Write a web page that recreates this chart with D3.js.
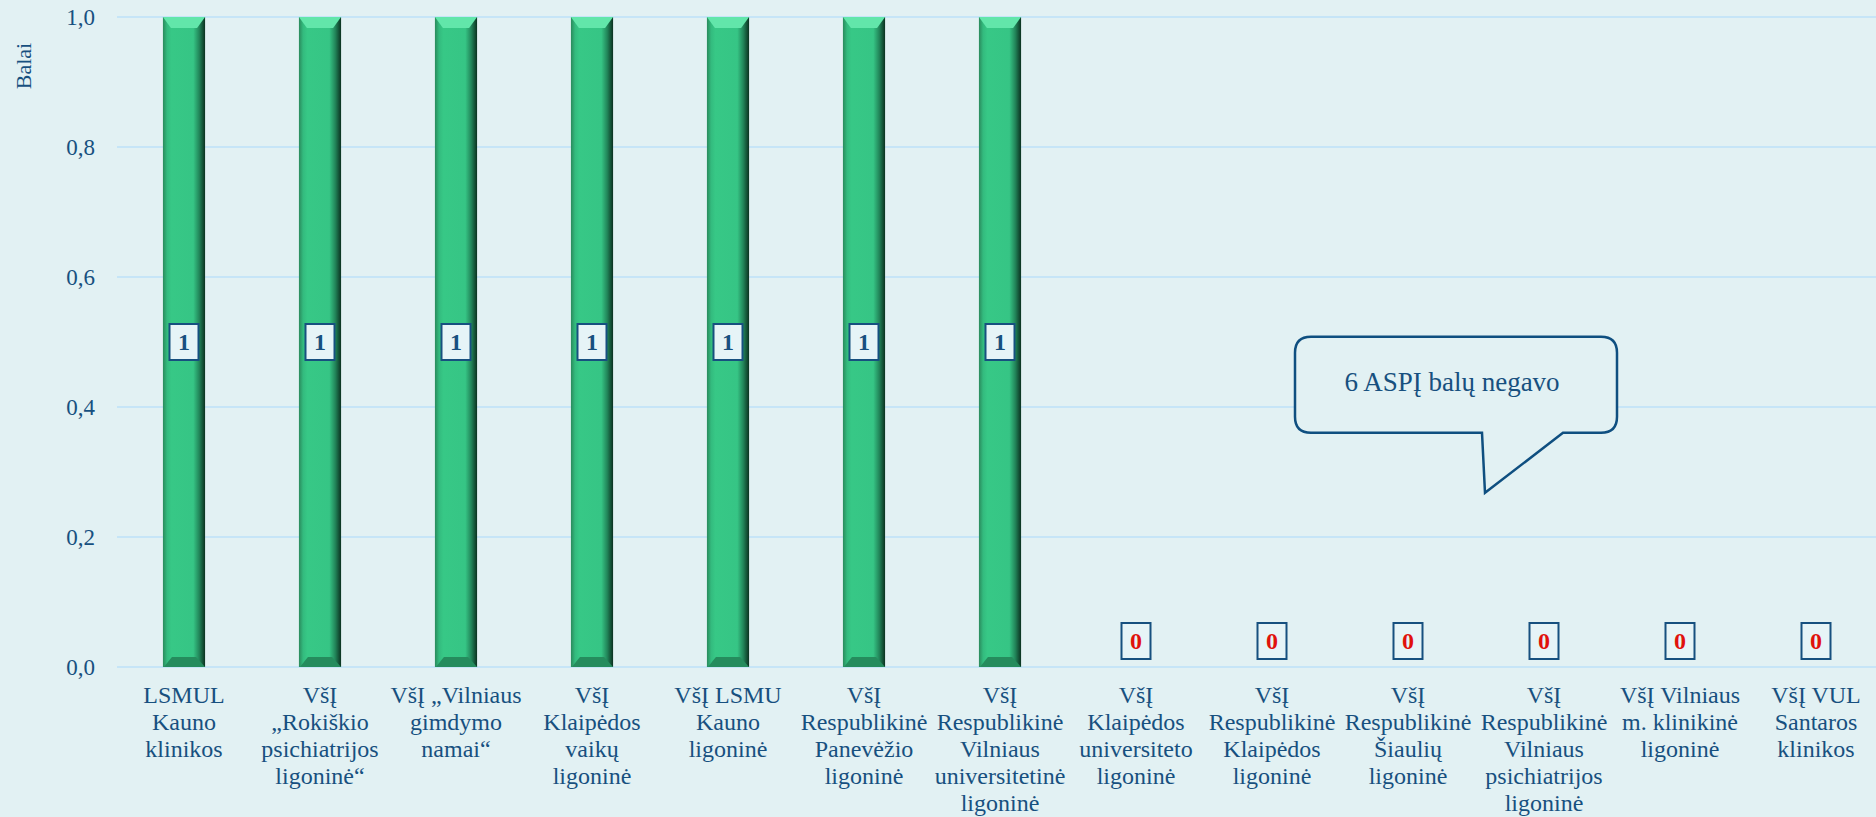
<!DOCTYPE html>
<html>
<head>
<meta charset="utf-8">
<script src="https://cdn.jsdelivr.net/npm/d3@7"></script>
<style>
  body { margin: 0; background: #e2f1f3; }
  svg { display: block; font-family: "Times New Roman", "Liberation Serif", serif; }
</style>
</head>
<body>
<svg id="chart" width="1876" height="817"></svg>
<script>
// Chart data
const categories = [
  "LSMUL Kauno klinikos",
  "VšĮ „Rokiškio psichiatrijos ligoninė“",
  "VšĮ „Vilniaus gimdymo namai“",
  "VšĮ Klaipėdos vaikų ligoninė",
  "VšĮ LSMU Kauno ligoninė",
  "VšĮ Respublikinė Panevėžio ligoninė",
  "VšĮ Respublikinė Vilniaus universitetinė ligoninė",
  "VšĮ Klaipėdos universiteto ligoninė",
  "VšĮ Respublikinė Klaipėdos ligoninė",
  "VšĮ Respublikinė Šiaulių ligoninė",
  "VšĮ Respublikinė Vilniaus psichiatrijos ligoninė",
  "VšĮ Vilniaus m. klinikinė ligoninė",
  "VšĮ VUL Santaros klinikos"
];
const scores = [1, 1, 1, 1, 1, 1, 1, 0, 0, 0, 0, 0, 0];
const yTicks = [0, 0.2, 0.4, 0.6, 0.8, 1.0];
const yTitle = "Balai";
const calloutText = "6 ASPĮ balų negavo";

const textColor = "#17507f";
const gridColor = "#c6e5f7";

function drawChart() {
  const svg = d3.select("#chart"),
    width = +svg.attr("width"),
    height = +svg.attr("height"),
    margin = { top: 17, right: -8, bottom: 150, left: 116 };

  const x = d3
    .scaleBand()
    .domain(categories)
    .range([margin.left, width - margin.right])
    .paddingInner(0.69)
    .paddingOuter(0.345);

  const y = d3
    .scaleLinear()
    .domain([0, 1])
    .range([height - margin.bottom, margin.top]);

  // gradients for the bevelled bars
  const defs = svg.append("defs");
  const grad = defs.append("linearGradient").attr("id", "barFace");
  [
    [0, "#2a8a5c"], [0.1, "#33bb7e"], [0.2, "#37c886"], [0.72, "#36c585"],
    [0.86, "#22865a"], [1, "#0b3120"]
  ].forEach((s) => grad.append("stop").attr("offset", s[0]).attr("stop-color", s[1]));

  // gridlines
  svg
    .append("g")
    .selectAll("line")
    .data(yTicks)
    .enter()
    .append("line")
    .attr("x1", margin.left + 1)
    .attr("x2", width)
    .attr("y1", (d) => y(d))
    .attr("y2", (d) => y(d))
    .attr("stroke", gridColor)
    .attr("stroke-width", 2);

  // y axis
  const yAxis = svg
    .append("g")
    .attr("transform", `translate(${margin.left - 21},0)`)
    .call(
      d3.axisLeft(y)
        .tickValues(yTicks)
        .tickSize(0)
        .tickPadding(0)
        .tickFormat((d) => d3.format(".1f")(d).replace(".", ","))
    );
  yAxis.select(".domain").remove();
  yAxis
    .selectAll("text")
    .attr("fill", textColor)
    .attr("font-size", "23px")
    .attr("font-family", '"Times New Roman", "Liberation Serif", serif');

  svg
    .append("text")
    .attr("transform", "translate(31,66) rotate(-90)")
    .attr("text-anchor", "middle")
    .attr("fill", textColor)
    .attr("font-size", "22px")
    .text(yTitle);

  // bars
  const bw = x.bandwidth();
  const bars = svg
    .selectAll(".bar")
    .data(categories.map((c, i) => ({ name: c, value: scores[i] })))
    .enter()
    .append("g")
    .attr("class", "bar");

  const withBar = bars.filter((d) => d.value > 0);
  withBar
    .append("rect")
    .attr("x", (d) => x(d.name))
    .attr("y", (d) => y(d.value))
    .attr("width", bw)
    .attr("height", (d) => y(0) - y(d.value))
    .attr("fill", "url(#barFace)");

  // top bevel
  withBar
    .append("path")
    .attr("d", (d) => {
      const x0 = x(d.name), x1 = x0 + bw, t = y(d.value);
      return `M${x0},${t}L${x1},${t}L${x1 - 8},${t + 11}L${x0 + 8},${t + 11}Z`;
    })
    .attr("fill", "#62e6aa");

  // bottom bevel
  withBar
    .append("path")
    .attr("d", (d) => {
      const x0 = x(d.name), x1 = x0 + bw, b = y(0);
      return `M${x0 + 1},${b}L${x1},${b}L${x1 - 9},${b - 10}L${x0 + 9},${b - 10}Z`;
    })
    .attr("fill", "#258c5d");

  // value labels
  const labelY = (d) => (d.value > 0 ? y(d.value / 2) : y(0) - 26);
  bars
    .append("rect")
    .attr("x", (d) => x(d.name) + bw / 2 - 14.5)
    .attr("y", (d) => labelY(d) - 18)
    .attr("width", 29)
    .attr("height", 36)
    .attr("fill", "#e6f4f7")
    .attr("stroke", "#17507f")
    .attr("stroke-width", 2);

  bars
    .append("text")
    .attr("x", (d) => x(d.name) + bw / 2)
    .attr("y", (d) => labelY(d))
    .attr("dy", "0.35em")
    .attr("text-anchor", "middle")
    .attr("font-size", "24px")
    .attr("font-weight", "bold")
    .attr("fill", (d) => (d.value > 0 ? "#17507f" : "#e0120c"))
    .text((d) => d.value);

  // category labels, wrapped to the band step
  const labels = svg
    .append("g")
    .selectAll("text")
    .data(categories)
    .enter()
    .append("text")
    .attr("x", (d) => x(d) + bw / 2)
    .attr("y", y(0) + 36)
    .attr("text-anchor", "middle")
    .attr("fill", textColor)
    .attr("font-size", "24px")
    .text((d) => d);
  labels.call(wrap, x.step());

  // callout
  const tipX = (x(categories[9]) + x(categories[10])) / 2 + bw / 2 + 9;
  const tipY = y(0.268);
  const bx0 = tipX - 190, bx1 = tipX + 132, by0 = tipY - 156, by1 = tipY - 60, r = 16;
  const path = [
    `M${bx0 + r},${by0}`,
    `L${bx1 - r},${by0}`,
    `Q${bx1},${by0} ${bx1},${by0 + r}`,
    `L${bx1},${by1 - r}`,
    `Q${bx1},${by1} ${bx1 - r},${by1}`,
    `L${tipX + 78},${by1}`,
    `L${tipX},${tipY}`,
    `L${tipX - 3},${by1}`,
    `L${bx0 + r},${by1}`,
    `Q${bx0},${by1} ${bx0},${by1 - r}`,
    `L${bx0},${by0 + r}`,
    `Q${bx0},${by0} ${bx0 + r},${by0}`,
    "Z"
  ].join("");
  svg
    .append("path")
    .attr("d", path)
    .attr("fill", "#e2f1f3")
    .attr("stroke", "#0f4f80")
    .attr("stroke-width", 2.5);
  svg
    .append("text")
    .attr("x", (bx0 + bx1) / 2 - 4)
    .attr("y", (by0 + by1) / 2 - 3)
    .attr("dy", "0.35em")
    .attr("text-anchor", "middle")
    .attr("fill", textColor)
    .attr("font-size", "27px")
    .text(calloutText);
}

function wrap(text, width) {
  text.each(function () {
    const t = d3.select(this),
      words = t.text().split(/\s+/),
      x0 = t.attr("x"),
      y0 = t.attr("y");
    let line = [],
      lineNo = 0,
      tspan = t.text(null).append("tspan").attr("x", x0).attr("y", y0);
    words.forEach((w) => {
      line.push(w);
      tspan.text(line.join(" "));
      if (tspan.node().getComputedTextLength() > width && line.length > 1) {
        line.pop();
        tspan.text(line.join(" "));
        line = [w];
        lineNo++;
        tspan = t
          .append("tspan")
          .attr("x", x0)
          .attr("y", +y0 + lineNo * 27)
          .text(w);
      }
    });
  });
}

drawChart();
</script>
</body>
</html>
